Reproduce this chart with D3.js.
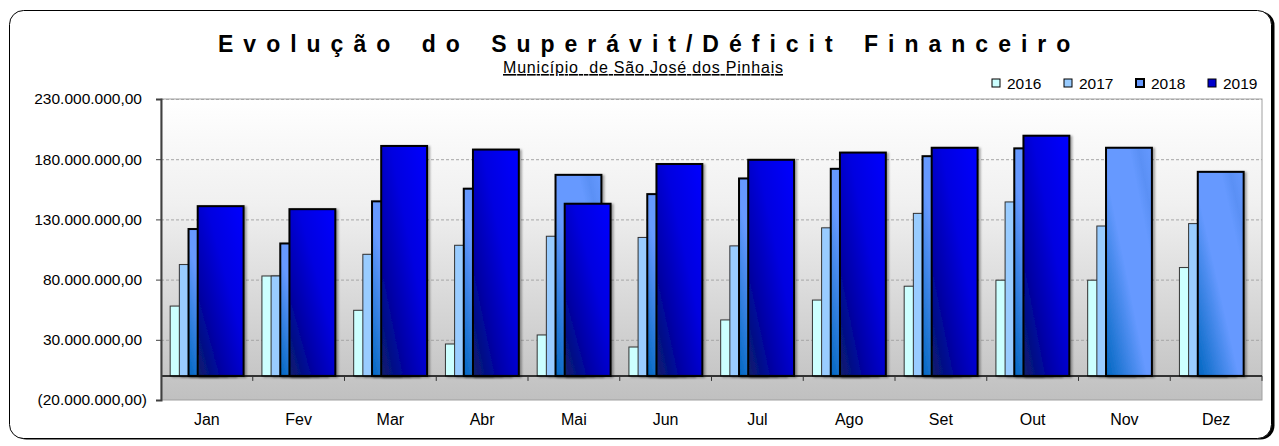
<!DOCTYPE html>
<html lang="pt">
  <head>
    <meta charset="UTF-8" />
    <script src="https://d3js.org/d3.v7.min.js"></script>
    <style>
      body { margin: 0; background: #fff; }
      svg { display: block; font-family: "Liberation Sans", Arial, sans-serif; }
    </style>
  </head>
  <body>
    <div id="chart"></div>
    <script>
      // values in millions of reais
      var months = ["Jan", "Fev", "Mar", "Abr", "Mai", "Jun", "Jul", "Ago", "Set", "Out", "Nov", "Dez"];
      var years = ["2016", "2017", "2018", "2019"];
      var v2016 = [58, 83, 54.5, 26.5, 34, 24, 46.5, 63, 74.5, 79.5, 79.5, 90];
      var v2017 = [92.5, 83, 101, 108.5, 116, 115, 108, 123, 135, 144.5, 124.5, 126.5];
      var v2018 = [122, 110, 145, 155.5, 167, 151, 164, 172, 182.5, 189, 189.5, 169.5];
      var v2019 = [141, 138.5, 191, 188, 143, 176, 179.5, 185.5, 189.5, 199.5, null, null];
      var yTicks = [-20, 30, 80, 130, 180, 230];

      var series = [v2016, v2017, v2018, v2019];

      var width = 1279, height = 446;
      var plot = { left: 161, right: 1262, top: 99, bottom: 400 };

      var svg = d3.select("#chart").append("svg")
        .attr("width", width)
        .attr("height", height);

      var defs = svg.append("defs");

      // plot background gradient
      var bg = defs.append("linearGradient").attr("id", "bg")
        .attr("x1", 0).attr("y1", 0).attr("x2", 0).attr("y2", 1);
      bg.append("stop").attr("offset", "0%").attr("stop-color", "#ffffff");
      bg.append("stop").attr("offset", "35%").attr("stop-color", "#f0f0f0");
      bg.append("stop").attr("offset", "92%").attr("stop-color", "#c6c6c6");
      bg.append("stop").attr("offset", "100%").attr("stop-color", "#c0c0c0");

      var g18 = defs.append("linearGradient").attr("id", "g2018")
        .attr("x1", 0).attr("y1", 1).attr("x2", 1).attr("y2", 0);
      g18.append("stop").attr("offset", "0%").attr("stop-color", "#0066c0");
      g18.append("stop").attr("offset", "45%").attr("stop-color", "#6699ff");
      g18.append("stop").attr("offset", "75%").attr("stop-color", "#6699ff");
      g18.append("stop").attr("offset", "85%").attr("stop-color", "#5a90f5");
      g18.append("stop").attr("offset", "100%").attr("stop-color", "#6699ff");

      var g19 = defs.append("linearGradient").attr("id", "g2019")
        .attr("x1", 0).attr("y1", 1).attr("x2", 1).attr("y2", 0);
      g19.append("stop").attr("offset", "0%").attr("stop-color", "#0a1f66");
      g19.append("stop").attr("offset", "30%").attr("stop-color", "#0000a8");
      g19.append("stop").attr("offset", "60%").attr("stop-color", "#0000e0");
      g19.append("stop").attr("offset", "100%").attr("stop-color", "#0000ff");

      var shadow = defs.append("filter").attr("id", "shadow")
        .attr("x", "-10%").attr("y", "-10%").attr("width", "130%").attr("height", "130%");
      shadow.append("feDropShadow")
        .attr("dx", 2).attr("dy", 1).attr("stdDeviation", 0.8)
        .attr("flood-color", "#000").attr("flood-opacity", 0.35);

      var fills = ["#ccffff", "#99ccff", "url(#g2018)", "url(#g2019)"];
      var legendFills = ["#ccffff", "#99ccff", "#6699ff", "#0000cc"];
      var strokes = ["#333", "#333", "#000", "#000"];
      var strokeW = [1, 1, 2, 2];

      // outer frame with shadow on the right
      svg.append("rect")
        .attr("x", 12.5).attr("y", 11.5)
        .attr("width", 1262).attr("height", 428)
        .attr("rx", 14)
        .attr("fill", "#000");
      svg.append("rect")
        .attr("x", 9.5).attr("y", 10.5)
        .attr("width", 1262).attr("height", 428)
        .attr("rx", 14)
        .attr("fill", "#fff")
        .attr("stroke", "#000")
        .attr("stroke-width", 1);

      // scales
      var x = d3.scaleBand().domain(months).range([plot.left, plot.right]).padding(0);
      var y = d3.scaleLinear().domain([-20, 230]).range([plot.bottom, plot.top]);

      // overlapping clustered bars (each bar half a band wide, 80% overlap)
      var barW = x.bandwidth() * 0.5;
      var step = barW * 0.2;
      var gap = (x.bandwidth() - barW - step * (years.length - 1)) / 2;
      var xs = d3.scaleBand().domain(years)
        .range([gap, gap + step * years.length]).padding(0);

      // plot area
      svg.append("rect")
        .attr("x", plot.left).attr("y", plot.top)
        .attr("width", plot.right - plot.left)
        .attr("height", plot.bottom - plot.top)
        .attr("fill", "url(#bg)")
        .attr("stroke", "#a0a0a0")
        .attr("stroke-width", 1);

      // grid lines
      svg.append("g").selectAll("line")
        .data(yTicks.filter(function (d) { return d > 0; }))
        .enter().append("line")
        .attr("x1", plot.left).attr("x2", plot.right)
        .attr("y1", function (d) { return y(d) + 0.5; })
        .attr("y2", function (d) { return y(d) + 0.5; })
        .attr("stroke", "#a6a6a6")
        .attr("stroke-dasharray", "3,2");

      var fmt = d3.formatLocale({ decimal: ",", thousands: ".", grouping: [3], currency: ["", ""] }).format(",.2f");

      // bars
      series.forEach(function (vals, si) {
        svg.append("g")
          .attr("filter", "url(#shadow)")
          .selectAll("rect")
          .data(vals.map(function (v, i) { return { m: months[i], v: v }; })
            .filter(function (d) { return d.v !== null; }))
          .enter().append("rect")
          .attr("x", function (d) { return x(d.m) + xs(years[si]); })
          .attr("y", function (d) { return y(d.v); })
          .attr("width", barW)
          .attr("height", function (d) { return y(0) - y(d.v); })
          .attr("fill", fills[si])
          .attr("stroke", strokes[si])
          .attr("stroke-width", strokeW[si]);
      });

      // zero line and category ticks
      svg.append("line")
        .attr("x1", plot.left).attr("x2", plot.right)
        .attr("y1", y(0)).attr("y2", y(0))
        .attr("stroke", "#000").attr("stroke-width", 1.5);

      svg.append("g").selectAll("line")
        .data(months)
        .enter().append("line")
        .attr("x1", function (d) { return x(d) + x.step(); })
        .attr("x2", function (d) { return x(d) + x.step(); })
        .attr("y1", y(0)).attr("y2", y(0) + 5)
        .attr("stroke", "#333");

      // y axis
      var yAxis = d3.axisLeft(y)
        .tickValues(yTicks)
        .tickSize(5)
        .tickPadding(14)
        .tickFormat(function (d) {
          return d < 0 ? "(" + fmt(-d * 1e6) + ")" : fmt(d * 1e6);
        });

      var yg = svg.append("g")
        .attr("transform", "translate(" + plot.left + ",0)")
        .call(yAxis);
      yg.select(".domain").attr("stroke", "#404040").attr("stroke-width", 2);
      yg.selectAll(".tick line").attr("stroke", "#404040");
      yg.selectAll(".tick text")
        .attr("font-size", 15.5)
        .attr("font-family", "Liberation Sans, Arial, sans-serif")
        .attr("fill", "#000")
        .attr("dx", function (d) { return d < 0 ? 5 : 0; });

      // month labels
      svg.append("g").selectAll("text")
        .data(months)
        .enter().append("text")
        .attr("x", function (d) { return x(d) + x.bandwidth() / 2; })
        .attr("y", 425)
        .attr("text-anchor", "middle")
        .attr("font-size", 16)
        .text(function (d) { return d; });

      // title
      svg.append("text")
        .attr("x", 218)
        .attr("y", 52)
        .attr("font-size", 23)
        .attr("font-weight", "bold")
        .style("letter-spacing", "10px")
        .style("word-spacing", "5px")
        .text("Evolução do Superávit/Déficit Financeiro");

      svg.append("text")
        .attr("x", 503)
        .attr("y", 73)
        .attr("font-size", 16)
        .attr("textLength", 280)
        .attr("lengthAdjust", "spacing")
        .attr("text-decoration", "underline")
        .style("white-space", "pre")
        .text("Município  de São José dos Pinhais");

      // legend
      var legend = svg.append("g").selectAll("g")
        .data(years)
        .enter().append("g")
        .attr("transform", function (d, i) { return "translate(" + (992 + i * 72) + ",79)"; });
      legend.append("rect")
        .attr("width", 8).attr("height", 8)
        .attr("fill", function (d, i) { return legendFills[i]; })
        .attr("stroke", "#000")
        .attr("stroke-width", function (d, i) { return i === 2 ? 2 : 1; });
      legend.append("text")
        .attr("x", 15).attr("y", 9.5)
        .attr("font-size", 15.5)
        .text(function (d) { return d; });
    </script>
  </body>
</html>
